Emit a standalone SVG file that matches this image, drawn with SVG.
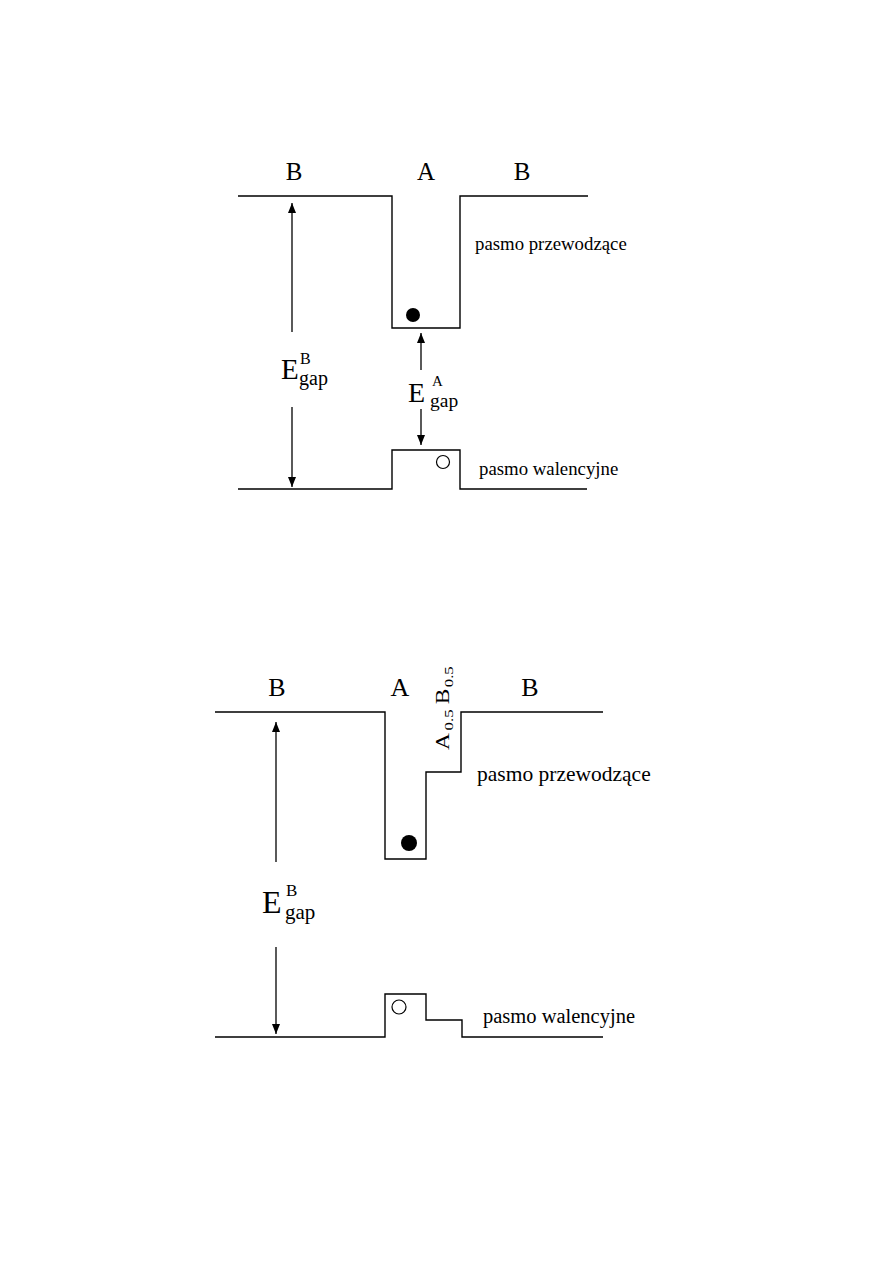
<svg xmlns="http://www.w3.org/2000/svg" width="893" height="1263" viewBox="0 0 893 1263">
<style>
.ln{fill:none;stroke:#000;stroke-width:1.4}
.t{font-family:"Liberation Serif","Times New Roman",serif;fill:#000}
.ar{fill:none;stroke:#000;stroke-width:1.3;marker-end:url(#ah)}
</style>
<defs>
<marker id="ah" markerUnits="userSpaceOnUse" markerWidth="10" markerHeight="8" refX="10" refY="4" orient="auto">
<path d="M0,0 L10,4 L0,8 z" fill="#000"/>
</marker>
</defs>
<rect width="893" height="1263" fill="#fff"/>

<g id="diagram1">
<g id="cond1"><path class="ln" d="M238,196 H392 V328 H460 V196 H588"/></g>
<g id="val1"><path class="ln" d="M238,489 H392 V450 H460 V489 H587"/></g>
<g id="electron1"><circle cx="413" cy="315" r="7" fill="#000"/></g>
<g id="hole1"><circle cx="443" cy="462" r="6.5" fill="#fff" stroke="#000" stroke-width="1.2"/></g>
<g id="labels1">
<text class="t" x="294" y="180" font-size="25" text-anchor="middle">B</text>
<text class="t" x="426" y="180" font-size="25" text-anchor="middle">A</text>
<text class="t" x="522" y="180" font-size="25" text-anchor="middle">B</text>
<text class="t" x="475" y="250" font-size="18.8">pasmo przewodzące</text>
<text class="t" x="479" y="475" font-size="18.8">pasmo walencyjne</text>
</g>
<g id="egapB1">
<text class="t" x="281" y="379" font-size="29">E</text>
<text class="t" x="300" y="364" font-size="16">B</text>
<text class="t" x="299" y="385" font-size="20">gap</text>
</g>
<g id="egapA1">
<text class="t" x="408" y="402" font-size="28">E</text>
<text class="t" x="432" y="386" font-size="15">A</text>
<text class="t" x="430" y="407" font-size="19.5">gap</text>
</g>
</g>

<g id="diagram2">
<g id="cond2"><path class="ln" d="M215,712 H385 V859 H426 V772 H461 V712 H603"/></g>
<g id="val2"><path class="ln" d="M215,1037 H385 V994 H426 V1020 H462 V1037 H603"/></g>
<g id="electron2"><circle cx="409" cy="843" r="8" fill="#000"/></g>
<g id="hole2"><circle cx="399" cy="1007" r="7" fill="#fff" stroke="#000" stroke-width="1.2"/></g>
<g id="labels2">
<text class="t" x="277" y="696" font-size="26" text-anchor="middle">B</text>
<text class="t" x="400" y="696" font-size="26" text-anchor="middle">A</text>
<text class="t" x="530" y="696" font-size="26" text-anchor="middle">B</text>
<text class="t" x="477" y="781" font-size="21.5">pasmo przewodzące</text>
<text class="t" x="483" y="1023" font-size="20.5">pasmo walencyjne</text>
<text class="t" transform="translate(449,750) rotate(-90) scale(1.3,1)" font-size="18">A<tspan font-size="13" dx="2" dy="4">0.5</tspan><tspan dx="4" dy="-4">B</tspan><tspan font-size="13" dx="1" dy="4">0.5</tspan></text>
</g>
<g id="egapB2">
<text class="t" x="262" y="913" font-size="32">E</text>
<text class="t" x="286" y="896" font-size="17">B</text>
<text class="t" x="285" y="919" font-size="21">gap</text>
</g>
</g>

<g id="connectors">
<line class="ar" x1="292" y1="332" x2="292" y2="203"/>
<line class="ar" x1="292" y1="407" x2="292" y2="487"/>
<line class="ar" x1="421" y1="370" x2="421" y2="333"/>
<line class="ar" x1="421" y1="409" x2="421" y2="445"/>
<line class="ar" x1="276" y1="862" x2="276" y2="722"/>
<line class="ar" x1="276" y1="947" x2="276" y2="1034"/>
</g>
</svg>
